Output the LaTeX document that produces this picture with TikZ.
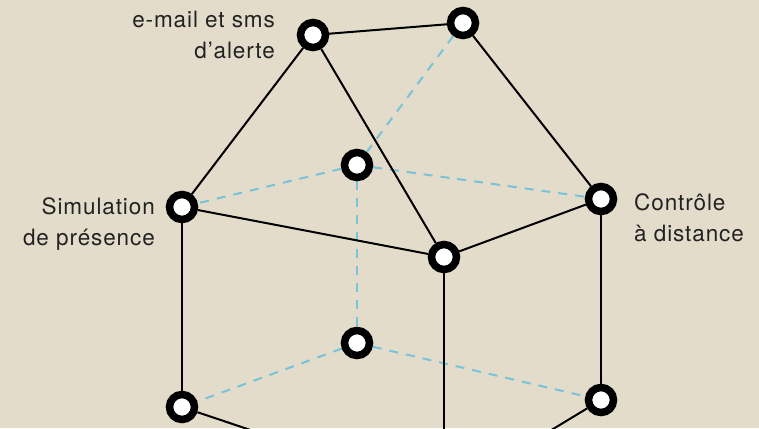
\documentclass[tikz,border=0pt]{standalone}
\usepackage{fontspec}
\setmainfont[LetterSpace=4]{TeX Gyre Heros}
\usetikzlibrary{backgrounds}
\definecolor{bg}{HTML}{E4DCCB}
\definecolor{dashblue}{HTML}{78C2DA}
\definecolor{txt}{HTML}{222222}
\begin{document}
\begin{tikzpicture}[x=1pt,y=-1pt,
  pt/.style={circle,draw=black,fill=white,line width=7.5pt,minimum size=25pt,inner sep=0pt},
  edge/.style={line width=2pt,black},
  hidden/.style={line width=2pt,dashblue,dash pattern=on 9pt off 8pt},
  lbl/.style={font=\fontsize{22.5}{31}\selectfont,text=txt,inner sep=0pt}]
\useasboundingbox (0,0) rectangle (759,428);
\clip (0,0) rectangle (759,428);
\node[pt] (A) at (313,35) {};
\node[pt] (B) at (463,23) {};
\node[pt] (C) at (357,165) {};
\node[pt] (D) at (182,207) {};
\node[pt] (E) at (601,199) {};
\node[pt] (F) at (444,257) {};
\node[pt] (G) at (357,343) {};
\node[pt] (H) at (182,407) {};
\node[pt] (I) at (601,400) {};
\coordinate (J) at (444,495);
\begin{scope}[on background layer]
\fill[bg] (0,0) rectangle (759,428);
\draw[hidden] (B) -- (C);
\draw[hidden] (C) -- (D);
\draw[hidden] (C) -- (E);
\draw[hidden] (C) -- (G);
\draw[hidden] (G) -- (H);
\draw[hidden] (G) -- (I);
\draw[edge] (A) -- (B);
\draw[edge] (A) -- (D);
\draw[edge] (A) -- (F);
\draw[edge] (B) -- (E);
\draw[edge] (D) -- (F);
\draw[edge] (F) -- (E);
\draw[edge] (D) -- (H);
\draw[edge] (E) -- (I);
\draw[edge] (F) -- (J);
\draw[edge] (H) -- (J);
\draw[edge] (I) -- (J);
\end{scope}
\node[lbl,align=right,anchor=base east] (la) at (275,58) {e-mail et sms\\d’alerte};
\node[lbl,align=right,anchor=base east] (ld) at (155,245) {Simulation\\de présence};
\node[lbl,align=left,anchor=base west] (le) at (634,241) {Contrôle\\à distance};
\end{tikzpicture}
\end{document}
